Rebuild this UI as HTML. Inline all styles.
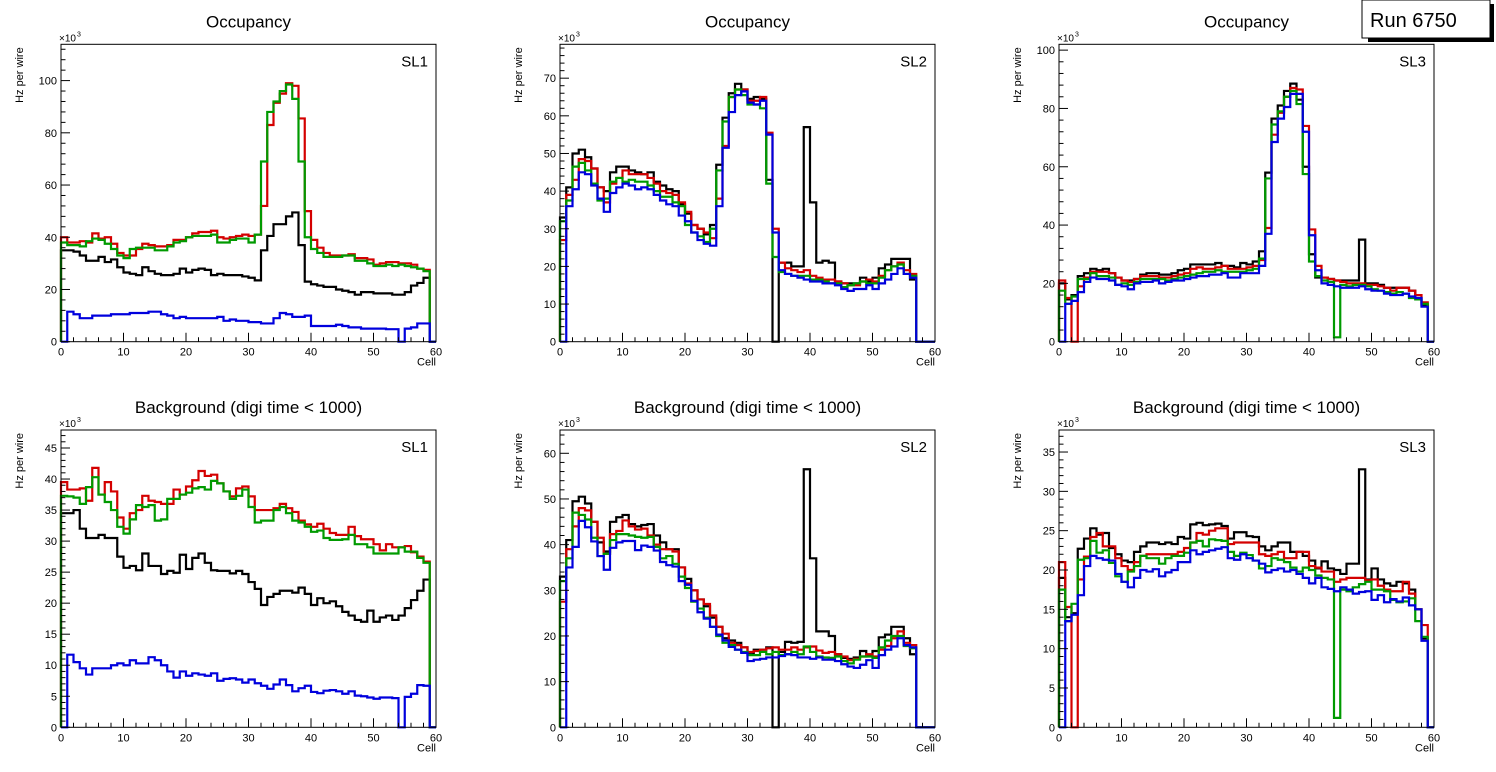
<!DOCTYPE html>
<html><head><meta charset="utf-8"><style>
html,body{margin:0;padding:0;background:#fff;}
svg{display:block;font-family:"Liberation Sans",Arial,sans-serif;}
</style></head><body>
<svg id="c" width="1496" height="772" viewBox="0 0 1496 772">
<rect width="1496" height="772" fill="#fff"/>
<g>
<rect x="1368" y="4" width="126" height="38" fill="#000"/>
<rect x="1362" y="0" width="128" height="38" fill="#fff" stroke="#000" stroke-width="1"/>
<text x="1370" y="27" font-size="20" fill="#000">Run 6750</text>
</g>
</svg>
<script>
const cells = Array.from({length:60},(_, i)=>i);
const seriesColors = ["#000000","#d40000","#009a00","#0000dd"];
// Panel 1: Occupancy SL1
const p1Black=[35,35,34.5,33,31,31,32.5,30.5,31.5,28.5, 26.5,26,25.5,28.5,27,26,25.5,25.5,26,28, 26.5,27.5,28,27.5,25.5,26,25.5,25.5,25.5,25, 24.5,23.5,35,40.5,45,45,48,49.5,37,23, 22,21.5,21,21,20,19.5,19,18,19,19, 18.5,18.5,18.5,18,18,19,21.5,22.5,24.5,0];
const p1Red=[40,38,38,38.5,38,41.5,39.5,40,37.5,34, 33,33,35.5,37.5,37,36.5,36.5,37,39,39, 40,41.5,42,42,42.5,40,39.5,40,40.5,41, 40.5,41,52,83,91.5,95,99,98,85.5,50, 39,36,34,33,33,33,33.5,32,32,31.5, 29.5,30,30.5,30.5,30,30,29.5,28,27.5,0];
const p1Green=[38,37,37,36.5,38.5,39.5,39,37.5,35.5,33, 32,35.5,36,36,36,35,35,36.5,38,38.5, 40,40.5,40.5,40.5,41,38,38,39,39.5,39.5, 38,41,69,88,92,96,98.5,93,69,40, 35.5,34,32.5,32.5,32.5,33,33,31,31,30, 29,29,29.5,29,29.5,29,28.5,28,27,0];
const p1Blue=[0,11.5,10.5,9,9,10,10,10,10.5,10.5, 10.5,11,11,11,11.5,11.5,10.5,10,9,9.5, 9,9,9,9,9,9.5,8,8.5,8,8, 7.5,7.5,7,7,9,11,10.5,9.5,9.5,10, 6,6,6,6,6.5,6,5.5,5.5,5,5, 5,5,4.8,4.8,0,5,5.5,7,7,0];
// Panel 2: Occupancy SL2
const p2Black=[33,41,50,51,49,46,41,40,45,46.5, 46.5,45.5,45,44.5,45,42.5,41.5,40.5,40,36.5, 34,31,30,28.5,31,47,59.5,66,68.5,67, 64.5,65,64.5,43,0,21,21,20,20,57, 37,21,21.5,21,16,15.5,15.5,15.5,17,16, 17,19.5,20.5,22,22,22,16.5,0,0,0];
const p2Red=[27,39,43,48.5,48,46,41,37,42,43.5, 45.5,44.5,44.5,44.5,43.5,42,40,39.5,39,37, 34.5,31,30,29,27.5,38,52,65,67,67, 64,64,65,55.5,30,21,19.5,19,18.5,19, 17.5,17,16.5,16.5,16,15.5,15,15,16,16.5, 16,17.5,19,20,21,19,18,0,0,0];
const p2Green=[32,37.5,46.5,47.5,45.5,42,37.5,38,42.5,43.5, 42.5,43,42.5,42.5,41.5,40,38.5,38.5,37,36, 31,29,28,26.5,30,45.5,58.5,65,67,65.5, 63,63,62,42,22.5,18.5,18,17.5,17.5,17.5, 16.5,16.5,16,15.5,15.5,14.5,15,15.5,16,15.5, 15.5,17,19,20,20.5,18,17.5,0,0,0];
const p2Blue=[0,36,40.5,45,44.5,41.5,38,34.5,39.5,41, 42,41.5,40.5,41,40.5,39,37.5,36.5,36,33.5, 32,29,27,26,25.5,36,51.5,61,65.5,66.5, 63.5,63,64,55,29,19,18,17.5,17,16.5, 16,16,15.5,15.5,15,14,13.5,14,14,15, 14,15.5,16.5,18,19.5,18,17,0,0,0];
// Panel 3: Occupancy SL3
const p3Black=[20,14.5,16,22.5,23.5,25,24.5,25,23.5,22, 21,21,21.5,23,23.5,23.5,23,23,23.5,24.5, 25,26.5,26.5,26.5,26.5,27,26,26,25.5,27, 26.5,27.5,31,58,76.5,81,86,88.5,83,60, 30,22,22,21.5,21,21,21,21,35,20, 20,19.5,18.5,18.5,18.5,18.5,17.5,15,12.5,0];
const p3Red=[21,15,0,19,22,24,24,24,23.5,22, 21,20.5,21.5,22.5,22.5,22.5,22,22,22.5,23, 23.5,25,25.5,25,25,25.5,26,25,25,25, 25.5,26,28,39,71,78.5,84,87,86.5,74, 38.5,26,22,21.5,21,20.5,20,20,20,19.5, 19.5,19,18.5,17.5,18.5,18.5,17.5,16,13.5,0];
const p3Green=[17.5,13,15.5,21.5,21.5,23.5,22.5,22.5,22,19.5, 20,19.5,20.5,21.5,21.5,21.5,21.5,21,21.5,22, 22.5,23,23.5,24,24,24.5,24,24,24,24, 24.5,25,28.5,56,74.5,79,84,86,81.5,57.5, 27.5,22.5,21,20.5,1.5,19.5,19,19.5,19.5,19, 18,17.5,17,16.5,17,16.5,15,14.5,13,0];
const p3Blue=[0,13,14,17,20.5,22,21.5,21.5,21,19.5, 19,18,20,20.5,20.5,21,20,20.5,21,21, 21.5,22,22.5,22.5,23,23,23.5,22,22,23.5, 23.5,23.5,26,37,68.5,76.5,80.5,85,85,72, 36.5,24.5,20,19.5,19,18.5,18.5,18.5,19,18, 17.5,17.5,16.5,16,16,16.5,15.5,15,12,0];
// Panel 4: Background SL1
const p4Black=[34.5,34.5,35,32,30.5,30.5,31,30.5,30.5,27.5, 25.7,26,25.3,28,26,26,24.7,25.2,24.9,27.8, 25.5,27.3,28,26.5,25.3,25.2,25.2,24.8,25.2,24.7, 23.4,22.3,19.7,21,21.5,22,22,21.7,22.5,21.5, 19.7,20.8,20,20.3,19.5,18.6,18,17.3,17,18.8, 17,17.7,18,17.3,18,19.2,20.5,22,23.8,0];
const p4Red=[39.5,38.3,38.3,38.5,36.5,41.8,37.5,39.5,38,33.8, 32,34.5,35,37.3,36.5,36.3,36,36,38.3,37.5, 38.8,39.8,41.3,40.5,40.7,39.3,38,37.2,38.5,38.8, 37.2,35,35,35,35.3,36,35.3,34.7,33.3,32.7, 32.3,32.8,32,31.3,31,31,32.3,30.8,30.3,30.3, 29.5,28.5,29.5,29,29,29.2,28.2,27.5,26.7,0];
const p4Green=[37.3,37.2,37,36,38.7,40.3,37.5,36.3,35,32.3, 31.2,33.5,35.8,35.5,35.8,33.3,33.5,36.8,36.8,37.5, 37.8,38.5,38.7,38.3,39.7,39.3,38,36.8,37.3,38.3, 35.5,33,33.3,33.3,35,35.5,34.5,33.3,33,32.3, 31.5,31.7,30.5,30.2,30.2,30.3,31,29.5,29.5,29, 28,28,28,28,29,28.3,28.3,27.3,26.5,0];
const p4Blue=[0,11.7,10.5,9.5,8.5,9.5,9.5,9.5,10,10.3, 10,10.8,10.3,10.3,11.3,10.8,10,9,8,9, 8.3,8.7,8.5,8.3,8.7,7.5,7.8,7.9,7.7,7.2, 7.7,7.1,6.7,6.2,6.9,7.7,6.8,5.8,6.3,6.7, 5.7,5.5,5.9,6,5.8,5.4,5.8,5.1,5,4.8, 4.6,4.8,4.8,4.7,0,4.9,5.4,6.8,6.7,0];
// Panel 5: Background SL2
const p5Black=[33,41,49.5,50.5,49,45,40.5,38.5,45,46, 46.5,44.5,44,44.3,44.5,42,40.5,39,39,35, 32.5,30,28,26.5,24,22,19.5,19,18.5,17.5, 16,17,17,17.5,0,16.5,18.7,18.5,18.7,56.5, 37,21,21,20,16,15.2,15,15.3,16.7,15.7, 16.7,19.7,20.3,22,22,19.5,16,0,0,0];
const p5Red=[27.5,39,44,48,47.5,45,41.5,38,42.3,43, 45.3,44,43.3,43.5,42,40,39,39,38.5,35, 31.5,30,28,27,24.5,22,20.5,18.5,18,17.5, 16.5,16.7,17,17.3,17.5,17,17,17.5,17,17.5, 17.7,16.8,16.3,16.5,16,15.5,14.7,15,15.5,16, 15.5,17,17.8,19.5,21,18.5,18,0,0,0];
const p5Green=[32,37,47,46.5,45.5,41.5,37.5,38,41,42.3, 42.3,42,41.7,41.5,41.7,39.5,37,37.5,35.8,33, 30.5,27.5,26,24,22,20,18.5,18,17,16.5, 15.8,15.8,16.5,16,16.5,15.8,16,16.5,16,17.7, 16.5,15.5,15.3,15.2,15.5,14.5,14,14.8,15.5,15.5, 15.2,17.5,19,20,20,17.8,17.3,0,0,0];
const p5Blue=[0,35,39.5,45.2,43.8,40.7,37.5,34.5,39.3,40.5, 40.8,40.8,38.8,39.8,39.5,38.7,36.2,35.5,35.2,32, 31.2,27.7,25.2,23.8,22,20.3,19,17.6,17,16.3, 14.5,14.8,15,15.3,15.3,15.6,16,15.8,15.3,15.3, 15,15.3,14.8,14.8,14.5,13.8,13.3,13,13.7,14.7, 13,15.8,17,17.7,19.5,18,17.5,0,0,0];
// Panel 6: Background SL3
const p6Black=[19,14,14.5,22.7,24,25.3,24.5,24.7,22.8,22, 21.2,21,22.3,23,23.5,23.5,23.3,23.5,23.3,24.2, 24,25.8,26,25.7,25.8,25.9,25.6,24,24.8,24.8, 24.3,24.2,23,22.5,23,23.5,23.5,22.3,22.3,21.8, 21.2,20.2,21.1,20.2,20,19.5,20.8,20.8,32.8,18.8, 20.2,18.8,18.3,18,18.5,18.3,17.5,15,11.3,0];
const p6Red=[21,15.3,0,18.8,21.7,24.2,24.7,23,23,21.5, 20.5,20,21,21.8,22,22,22,22,22,22.3, 22.8,23.5,24.7,24.5,25,25.3,25.3,23.3,23.5,23.5, 23.5,23.5,22,21.8,22,22.3,21.5,21.5,22.3,22.3, 20.5,20.3,19.8,19.8,18.5,18.8,19,19,19,18.7, 18.8,18,17.5,17.3,17.3,18.5,17,15,13,0];
const p6Green=[17.5,13.5,15.7,21.3,21.5,23.7,22.2,22.5,20.9,19.2, 18.5,19.8,20.5,21.8,21.5,21.5,20.8,21.5,21.8,21.8, 22.2,23.5,23.7,23,23.9,23.8,23.7,22.3,21.8,22.2, 21.9,21.2,20.2,20.5,21.5,21.3,21,20.3,19.8,20.3, 20,19.3,19,18.8,1.2,17.5,17.3,17.8,18.2,18.5, 17.5,17.5,17.3,16.2,15.9,16,16.4,13.5,11.5,0];
const p6Blue=[0,13.5,14.3,16.8,20.5,21.8,21.5,21.3,21.2,19.5, 18.5,17.8,19,20,19.8,20.1,19.2,19.7,20,21, 21,22.5,22,22.3,22.5,22.7,22.9,21.5,21.3,22, 21.5,21.2,20.8,19.7,20,20.2,19.8,20,19.5,19, 18.3,19,17.8,17.6,17.3,17.8,17.5,17,17.2,17.3, 16.2,16.8,15.9,16.3,16,16.5,15.5,15,11,0];
const xTickLabels=["0","10","20","30","40","50","60"];
const p1YTicks=[0,20,40,60,80,100];
const p2YTicks=[0,10,20,30,40,50,60,70];
const p3YTicks=[0,20,40,60,80,100];
const p4YTicks=[0,5,10,15,20,25,30,35,40,45];
const p5YTicks=[0,10,20,30,40,50,60];
const p6YTicks=[0,5,10,15,20,25,30,35];
const panelTitles=["Occupancy","Occupancy","Occupancy","Background (digi time < 1000)","Background (digi time < 1000)","Background (digi time < 1000)"];
const panelLabels=["SL1","SL2","SL3","SL1","SL2","SL3"];

const NS="http://www.w3.org/2000/svg";
const svg=document.getElementById('c');
function mk(tag,attrs,parent){const e=document.createElementNS(NS,tag);for(const k in attrs)e.setAttribute(k,attrs[k]);(parent||svg).appendChild(e);return e;}

const panels=[
 {x0:61,x1:436,y0:341.7,y1:44.3,ymax:113.9,major:20,minor:4,ticks:p1YTicks,series:[p1Black,p1Red,p1Green,p1Blue]},
 {x0:560,x1:935,y0:341.7,y1:44.3,ymax:79,major:10,minor:2,ticks:p2YTicks,series:[p2Black,p2Red,p2Green,p2Blue]},
 {x0:1059,x1:1434,y0:341.7,y1:44.3,ymax:102,major:20,minor:4,ticks:p3YTicks,series:[p3Black,p3Red,p3Green,p3Blue]},
 {x0:61,x1:436,y0:727.3,y1:430,ymax:47.9,major:5,minor:1,ticks:p4YTicks,series:[p4Black,p4Red,p4Green,p4Blue]},
 {x0:560,x1:935,y0:727.3,y1:430,ymax:65.1,major:10,minor:2,ticks:p5YTicks,series:[p5Black,p5Red,p5Green,p5Blue]},
 {x0:1059,x1:1434,y0:727.3,y1:430,ymax:37.8,major:5,minor:1,ticks:p6YTicks,series:[p6Black,p6Red,p6Green,p6Blue]}
];
const seriesNames=["black","red","green","blue"];

panels.forEach((p,pi)=>{
 const g=mk('g',{});
 
 
 const xs=v=>p.x0+(v/60)*(p.x1-p.x0);
 const ys=v=>p.y0-(v/p.ymax)*(p.y0-p.y1);
 const t=mk('text',{x:(p.x0+p.x1)/2,y:p.y1-17,'text-anchor':'middle','font-size':17,fill:'#000'},g);
 t.textContent=panelTitles[pi];
 
 
 p.series.forEach((arr,si)=>{
  let d='M'+xs(0)+','+ys(0);
  cells.forEach(i=>{const v=arr[i]||0;d+=' L'+xs(i)+','+ys(v)+' L'+xs(i+1)+','+ys(v);});
  d+=' L'+xs(60)+','+ys(0);
  const path=mk('path',{d:d,fill:'none',stroke:seriesColors[si],'stroke-width':2.2,'stroke-linejoin':'miter'},g);
  
  
 });
 const fr=mk('rect',{x:p.x0,y:p.y1,width:p.x1-p.x0,height:p.y0-p.y1,fill:'none',stroke:'#000','stroke-width':1},g);
 
 
 for(let v=0;v<=60;v+=2){
  const L=(v%10===0)?9:4.5;
  mk('line',{x1:xs(v),x2:xs(v),y1:p.y0,y2:p.y0-L,stroke:'#000','stroke-width':1},g);
 }
 xTickLabels.forEach((lab,i)=>{
  const tx=mk('text',{x:xs(i*10),y:p.y0+14,'text-anchor':'middle','font-size':11,fill:'#000'},g);
  tx.textContent=lab;
  
  
 });
 for(let v=0;v<=p.ymax+1e-6;v+=p.minor){
  const isMaj=Math.abs(v/p.major-Math.round(v/p.major))<1e-6;
  mk('line',{x1:p.x0,x2:p.x0+(isMaj?9:4.5),y1:ys(v),y2:ys(v),stroke:'#000','stroke-width':1},g);
 }
 p.ticks.forEach(v=>{
  const ty=mk('text',{x:p.x0-4,y:ys(v)+4,'text-anchor':'end','font-size':11,fill:'#000'},g);
  ty.textContent=String(v);
  
  
 });
 const ex=mk('text',{x:p.x0-2,y:p.y1-3,'font-size':10,fill:'#000'},g);
 ex.textContent='×10';
 
 
 const ex3=mk('text',{x:p.x0+16,y:p.y1-8,'font-size':7,fill:'#000'},g);
 ex3.textContent='3';
 
 
 const yl=mk('text',{x:0,y:0,'text-anchor':'end','font-size':11,fill:'#000',transform:'translate('+(p.x0-38)+','+(p.y1+3)+') rotate(-90)'},g);
 yl.textContent='Hz per wire';
 
 
 const xl=mk('text',{x:p.x1,y:p.y0+24,'text-anchor':'end','font-size':11,fill:'#000'},g);
 xl.textContent='Cell';
 
 
 const sl=mk('text',{x:p.x1-8,y:p.y1+22,'text-anchor':'end','font-size':15,fill:'#000'},g);
 sl.textContent=panelLabels[pi];
 
 
});
</script>
</body></html>
